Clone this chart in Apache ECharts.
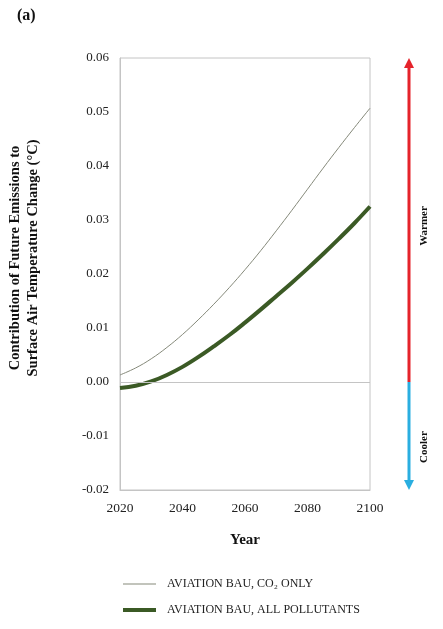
<!DOCTYPE html>
<html>
<head>
<meta charset="utf-8">
<script src="https://cdn.jsdelivr.net/npm/echarts@6/dist/echarts.min.js"></script>
<style>
  html, body { margin: 0; padding: 0; background: #fff; }
  #chart { width: 443px; height: 629px; }
</style>
</head>
<body>
<div id="chart"></div>
<script>
/* Aviation BAU: contribution of future emissions to surface air temperature change */
var years = [2020, 2025, 2030, 2035, 2040, 2045, 2050, 2055, 2060,
             2065, 2070, 2075, 2080, 2085, 2090, 2095, 2100];
var co2Only = [0.0013, 0.0026, 0.0043, 0.0064, 0.0088, 0.0115, 0.0144, 0.0175, 0.0208,
               0.0243, 0.0280, 0.0318, 0.0357, 0.0396, 0.0434, 0.0471, 0.0507];
var allPollutants = [-0.0011, -0.0007, 0.0001, 0.0013, 0.0028, 0.0046, 0.0066, 0.0087, 0.0110,
                     0.0134, 0.0159, 0.0184, 0.0210, 0.0237, 0.0265, 0.0294, 0.0325];
var seriesNames = ["AVIATION BAU, CO\u2082 ONLY", "AVIATION BAU, ALL POLLUTANTS"];
var yTicks = { min: -0.02, max: 0.06, step: 0.01 };
var xTicks = { min: 2020, max: 2100, step: 20 };

var SERIF = "'Liberation Serif', 'DejaVu Serif', serif";
var BOX = "#c4c4c4";
var THIN = "#85897a", THICK = "#3b5a25";

function pairs(vals) {
  return years.map(function (y, i) { return [y, vals[i]]; });
}
var legendText = { fontFamily: SERIF, fontSize: 12, color: "#222", padding: [0, 0, 0, 6] };

var chart = echarts.init(document.getElementById("chart"));
chart.setOption({
  animation: false,
  backgroundColor: "#fff",
  textStyle: { fontFamily: SERIF },
  grid: { left: 120, right: 73, top: 58, bottom: 139, show: true,
          borderColor: BOX, borderWidth: 1, backgroundColor: "transparent" },
  xAxis: {
    type: "value", min: xTicks.min, max: xTicks.max, interval: xTicks.step,
    axisLine: { onZero: false, lineStyle: { color: BOX } },
    axisTick: { show: false },
    splitLine: { show: false },
    axisLabel: { color: "#222", fontSize: 13.5, fontFamily: SERIF, margin: 11,
                 formatter: function (v) { return String(v); } }
  },
  yAxis: {
    type: "value", min: yTicks.min, max: yTicks.max, interval: yTicks.step,
    axisLine: { show: true, lineStyle: { color: BOX } },
    axisTick: { show: false },
    splitLine: { show: false },
    axisLabel: { color: "#222", fontSize: 13, fontFamily: SERIF, margin: 11,
                 formatter: function (v) { return v.toFixed(2); } }
  },
  legend: [
    { left: 118, top: 573, itemWidth: 33, itemHeight: 1, icon: "rect",
      textStyle: legendText, data: [seriesNames[0]] },
    { left: 118, top: 599, itemWidth: 33, itemHeight: 4, icon: "rect",
      textStyle: legendText, data: [seriesNames[1]] }
  ],
  series: [
    {
      name: seriesNames[0], type: "line", data: pairs(co2Only),
      smooth: 0.4, symbol: "none",
      lineStyle: { color: THIN, width: 1 },
      itemStyle: { color: THIN },
      markLine: {
        silent: true, symbol: "none", label: { show: false },
        lineStyle: { color: BOX, width: 1, type: "solid" },
        data: [{ yAxis: 0 }]
      },
      z: 3
    },
    {
      name: seriesNames[1], type: "line", data: pairs(allPollutants),
      smooth: 0.4, symbol: "none",
      lineStyle: { color: THICK, width: 4 },
      itemStyle: { color: THICK },
      z: 4
    }
  ]
});

// annotations: panel tag, axis titles, warmer/cooler arrow
var yZero = chart.convertToPixel({ gridIndex: 0 }, [2020, 0])[1];
var yTop = chart.convertToPixel({ gridIndex: 0 }, [2020, yTicks.max])[1];
var yBot = chart.convertToPixel({ gridIndex: 0 }, [2020, yTicks.min])[1];
var ax = 409;
chart.setOption({
  graphic: [
    { type: "text", left: 17, top: 8,
      style: { text: "(a)", font: "bold 16px " + SERIF, fill: "#111" } },
    { type: "text", x: 245, y: 540,
      style: { text: "Year", font: "bold 15px " + SERIF, fill: "#111",
               align: "center", verticalAlign: "middle" } },
    { type: "text", x: 24, y: 258, rotation: Math.PI / 2,
      style: { text: "Contribution of Future Emissions to\nSurface Air Temperature Change (\u00b0C)",
               font: "bold 14.5px " + SERIF, fill: "#111", lineHeight: 18,
               align: "center", verticalAlign: "middle" } },
    { type: "line", shape: { x1: ax, y1: yZero, x2: ax, y2: yTop + 8 },
      style: { stroke: "#e5232b", lineWidth: 3 } },
    { type: "polygon", shape: { points: [[ax - 5, yTop + 10], [ax + 5, yTop + 10], [ax, yTop]] },
      style: { fill: "#e5232b" } },
    { type: "line", shape: { x1: ax, y1: yZero, x2: ax, y2: yBot - 8 },
      style: { stroke: "#2aaee0", lineWidth: 3 } },
    { type: "polygon", shape: { points: [[ax - 5, yBot - 10], [ax + 5, yBot - 10], [ax, yBot]] },
      style: { fill: "#2aaee0" } },
    { type: "text", x: 424, y: 226, rotation: Math.PI / 2,
      style: { text: "Warmer", font: "bold 11px " + SERIF, fill: "#111",
               align: "center", verticalAlign: "middle" } },
    { type: "text", x: 424, y: 447, rotation: Math.PI / 2,
      style: { text: "Cooler", font: "bold 11px " + SERIF, fill: "#111",
               align: "center", verticalAlign: "middle" } }
  ]
});
</script>
</body>
</html>
